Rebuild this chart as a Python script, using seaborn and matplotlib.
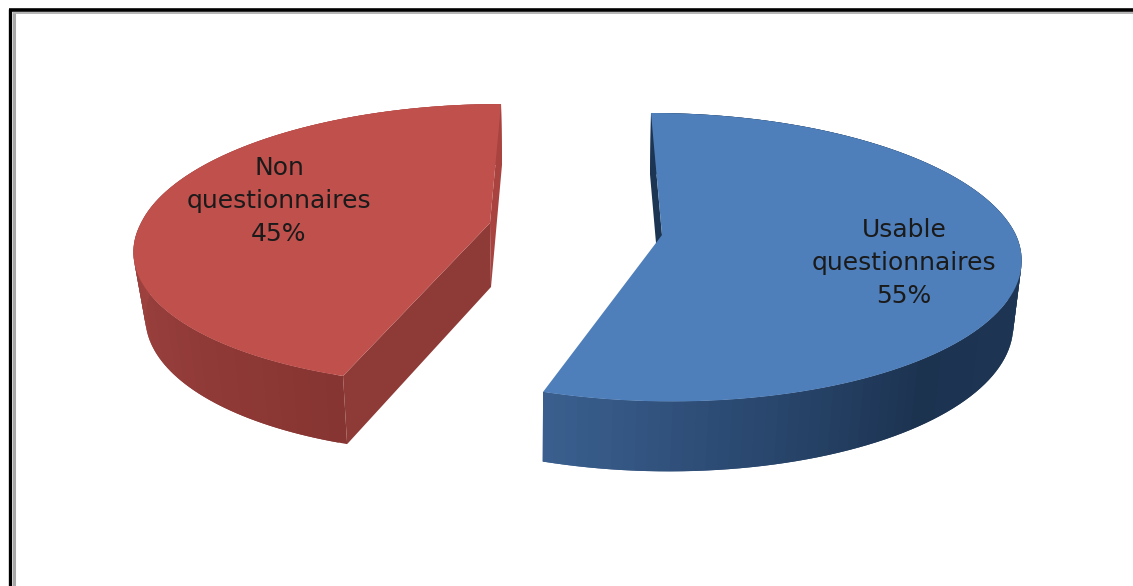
import numpy as np
import seaborn as sns
import matplotlib.pyplot as plt

# Data
labels = ['Usable\nquestionnaires\n55%', 'Non\nquestionnaires\n45%']
values = [55, 45]

sns.set_theme(style="white")
fig = plt.figure(figsize=(11.33, 5.86), dpi=100)
ax = fig.add_axes([0, 0, 1, 1])
ax.set_xlim(0, 1133)
ax.set_ylim(586, 0)
ax.axis('off')

# slice angles, clockwise from 12 o'clock
edges = np.cumsum([0] + values) / sum(values) * 360


def project(theta, cx, cy, rx, ry, lean_back, lean_front, k=0.154):
    # flat disc seen in perspective, back edge is further away
    u = np.sin(np.radians(theta))
    v = np.cos(np.radians(theta))
    w = 1 + k * v
    lean = np.where(v > 0, lean_back, lean_front)
    return cx + (rx * u + lean * v) / w, cy - ry * v / w


def draw_slice(start, end, top, bottom, top_color, side_colors):
    n = len(side_colors)
    t = np.linspace(start, end, n + 1)
    x0, y0 = project(t, *top)
    x1, y1 = project(t, *bottom)
    for i, c in enumerate(side_colors):
        j = min(i + 2, n)  # overlap the next strip so no seams show
        ax.fill([x0[i], x0[j], x1[j], x1[i]], [y0[i], y0[j], y1[j], y1[i]],
                color=c, lw=0, zorder=2)
    ax.fill(np.r_[top[0], x0], np.r_[top[1], y0], color=top_color, lw=0, zorder=4)
    return x0, y0, x1, y1


# Usable slice
blue_top = (662, 235, 354, 140.8, -12.7, -8.3)
blue_bottom = (661, 300, 347, 145, -12.7, -6.6)
blue_sides = sns.blend_palette(['#3a5f8e', '#2a4870', '#1c3350', '#1d3553', '#1f3858',
                                '#1f3858', '#1f3858', '#1f3858'], 120)
x0, y0, x1, y1 = draw_slice(edges[0], edges[1], blue_top, blue_bottom, '#4f7fba', blue_sides[::-1])
ax.fill([blue_top[0], x0[0], x1[0], blue_bottom[0]], [blue_top[1], y0[0], y1[0], blue_bottom[1]],
        color='#1c3552', lw=0, zorder=3)

# Non slice
red_top = (490, 223, 349, 137.3, 12.7, 18.5)
red_bottom = (491, 287, 338, 141, 12.7, 19.3)
red_sides = sns.blend_palette(['#873532', '#9a403d', '#ab4744', '#ab4744'], 120)
x0, y0, x1, y1 = draw_slice(edges[1], edges[2], red_top, red_bottom, '#bf504c', red_sides)
ax.fill([red_top[0], x0[-1], x1[-1], red_bottom[0]], [red_top[1], y0[-1], y1[-1], red_bottom[1]],
        color='#a8433f', lw=0, zorder=2.5)
ax.fill([red_top[0], x0[0], x1[0], red_bottom[0]], [red_top[1], y0[0], y1[0], red_bottom[1]],
        color='#8e3a37', lw=0, zorder=3)

# Labels
ax.text(904, 263, labels[0], ha='center', va='center', fontsize=18, color='#1a1a1a',
        linespacing=1.45, zorder=5)
ax.text(279, 201, labels[1], ha='center', va='center', fontsize=18, color='#1a1a1a',
        linespacing=1.45, zorder=5)

# Frame round the picture
ax.plot([9.7, 9.7], [586, 9], color='black', lw=2.4, solid_capstyle='butt')
ax.plot([8.5, 1133], [10.2, 10.2], color='black', lw=2.6, solid_capstyle='butt')
ax.plot([14, 14], [586, 12.5], color='#a8a8a8', lw=2.2, solid_capstyle='butt')
ax.plot([12.5, 1133], [12.9, 12.9], color='#a8a8a8', lw=1.2, solid_capstyle='butt')

plt.savefig('out.png', dpi=100)
